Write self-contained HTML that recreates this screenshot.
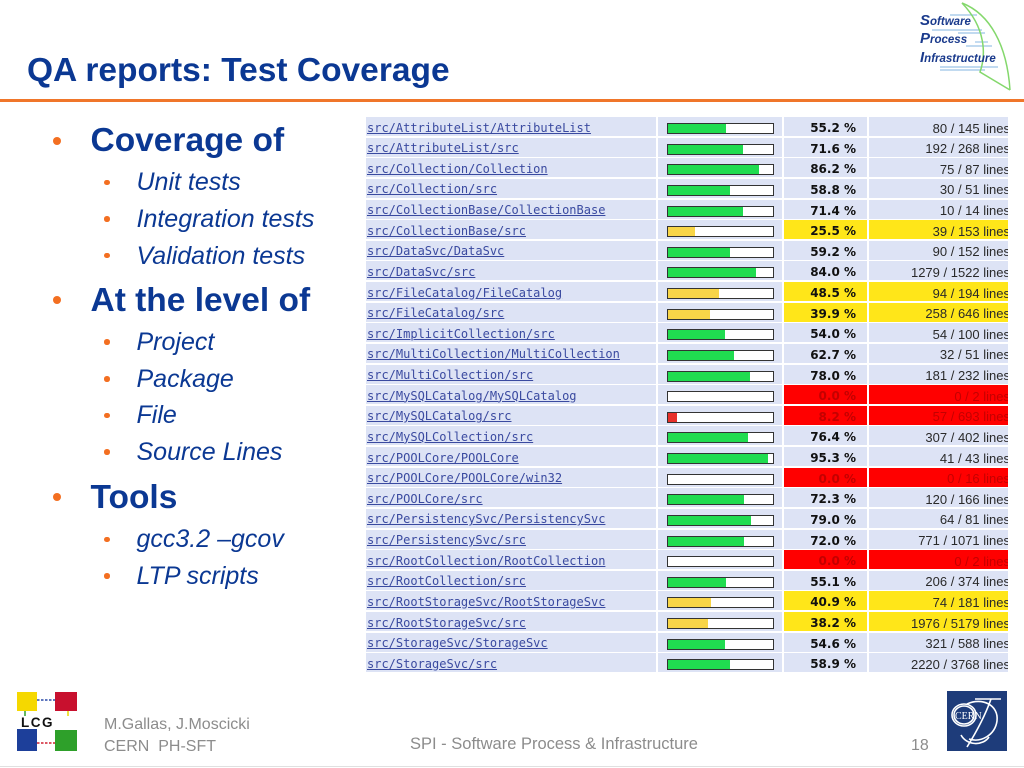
<!DOCTYPE html>
<html>
<head>
<meta charset="utf-8">
<style>
  html,body{margin:0;padding:0;background:#fff;}
  body{width:1024px;height:768px;position:relative;overflow:hidden;font-family:"Liberation Sans",Arial,sans-serif;}
  .abs{position:absolute;white-space:nowrap;line-height:1;}
  .title{left:27px;top:53.6px;font-size:33.5px;font-weight:bold;color:#0b3893;}
  .hr{position:absolute;left:0;top:99px;width:1024px;height:3px;background:#f0762a;}
  .m{font-size:33.5px;font-weight:bold;color:#0b3893;left:90.5px;}
  .s{font-size:25px;font-style:italic;color:#0b3893;left:136.5px;}
  .dot{position:absolute;border-radius:50%;background:#f36f21;}
  .dm{width:8px;height:8px;left:53px;}
  .ds{width:5.5px;height:5.5px;left:104px;}
  .tbl{position:absolute;left:366px;top:117px;display:grid;grid-template-columns:290px 124px 83px 139px;column-gap:2px;grid-auto-rows:19px;row-gap:1.63px;}
  .tbl>div{background:#dde3f5;position:relative;overflow:hidden;white-space:nowrap;}
  .c{font-family:"DejaVu Sans Mono","Liberation Mono",monospace;font-size:12px;line-height:19px;padding-top:1.5px;box-sizing:border-box;color:#3a4aa0;text-decoration:underline;padding-left:1px;}
  .p{font-family:"DejaVu Sans","Liberation Sans",sans-serif;font-size:12px;font-weight:bold;line-height:19px;padding-top:2px;box-sizing:border-box;text-align:right;padding-right:11px;color:#111;}
  .l{font-size:13px;line-height:19px;padding-top:1.5px;box-sizing:border-box;text-align:right;color:#2a2a2a;}
  .l span{position:absolute;right:-2px;}
  .tbl>div.y{background:#ffe619;}
  .tbl>div.r{background:#ff0000;color:#c40000;}
  .bar{position:absolute;left:9px;top:6px;width:107px;height:11px;box-sizing:border-box;border:1px solid #333;background:#fff;}
  .bar i{display:block;height:100%;background:#20dc50;}
  .bar i.y{background:#f8d548;}
  .bar i.r{background:#e8302a;}
  .foot{color:#8c8c8c;font-size:16px;}
</style>
</head>
<body>
<div class="abs title">QA reports: Test Coverage</div>
<div class="hr"></div>

<!-- SPI logo -->
<svg style="position:absolute;left:0;top:0" width="1024" height="100" viewBox="0 0 1024 100">
  <g stroke="#9cc4e8" stroke-width="1.2">
    <line x1="950" y1="15" x2="977" y2="15"/>
    <line x1="932" y1="30" x2="982" y2="30"/>
    <line x1="958" y1="33" x2="985" y2="33"/>
    <line x1="975" y1="42" x2="988" y2="42"/>
    <line x1="966" y1="46" x2="992" y2="46"/>
    <line x1="940" y1="67" x2="998" y2="67"/>
    <line x1="940" y1="70" x2="985" y2="70"/>
  </g>
  <g fill="none" stroke="#84d86c" stroke-width="1.5">
    <path d="M962,3 C990,14 1007,45 1010,90"/>
    <path d="M962,3 C986,28 986,55 980,72 L1010,90"/>
  </g>
  <g font-family="Liberation Sans, Arial, sans-serif" font-weight="bold" font-style="italic" fill="#1a3a8c">
    <text x="920" y="25" font-size="15">S<tspan font-size="11.5">oftware</tspan></text>
    <text x="920" y="43" font-size="15">P<tspan font-size="11.5">rocess</tspan></text>
    <text x="920" y="62" font-size="15">I<tspan font-size="11.5">nfrastructure</tspan></text>
  </g>
</svg>

<!-- bullets -->
<div class="dot dm" style="top:137px"></div>
<div class="abs m" style="top:124.3px">Coverage of</div>
<div class="dot ds" style="top:179.5px"></div>
<div class="abs s" style="top:170.1px">Unit tests</div>
<div class="dot ds" style="top:216.2px"></div>
<div class="abs s" style="top:206.8px">Integration tests</div>
<div class="dot ds" style="top:252.9px"></div>
<div class="abs s" style="top:243.5px">Validation tests</div>

<div class="dot dm" style="top:296px"></div>
<div class="abs m" style="top:283.9px">At the level of</div>
<div class="dot ds" style="top:339px"></div>
<div class="abs s" style="top:329.5px">Project</div>
<div class="dot ds" style="top:376px"></div>
<div class="abs s" style="top:366.5px">Package</div>
<div class="dot ds" style="top:412.6px"></div>
<div class="abs s" style="top:403.2px">File</div>
<div class="dot ds" style="top:449.3px"></div>
<div class="abs s" style="top:439.9px">Source Lines</div>

<div class="dot dm" style="top:493px"></div>
<div class="abs m" style="top:480.9px">Tools</div>
<div class="dot ds" style="top:536.6px"></div>
<div class="abs s" style="top:527.1px">gcc3.2 –gcov</div>
<div class="dot ds" style="top:573.3px"></div>
<div class="abs s" style="top:563.8px">LTP scripts</div>

<!-- table -->
<div class="tbl">
<div class="c">src/AttributeList/AttributeList</div><div><div class="bar"><i style="width:58px"></i></div></div><div class="p">55.2 %</div><div class="l"><span>80 / 145 lines</span></div>
<div class="c">src/AttributeList/src</div><div><div class="bar"><i style="width:75px"></i></div></div><div class="p">71.6 %</div><div class="l"><span>192 / 268 lines</span></div>
<div class="c">src/Collection/Collection</div><div><div class="bar"><i style="width:90.5px"></i></div></div><div class="p">86.2 %</div><div class="l"><span>75 / 87 lines</span></div>
<div class="c">src/Collection/src</div><div><div class="bar"><i style="width:61.7px"></i></div></div><div class="p">58.8 %</div><div class="l"><span>30 / 51 lines</span></div>
<div class="c">src/CollectionBase/CollectionBase</div><div><div class="bar"><i style="width:75px"></i></div></div><div class="p">71.4 %</div><div class="l"><span>10 / 14 lines</span></div>
<div class="c">src/CollectionBase/src</div><div><div class="bar"><i class="y" style="width:26.8px"></i></div></div><div class="p y">25.5 %</div><div class="l y"><span>39 / 153 lines</span></div>
<div class="c">src/DataSvc/DataSvc</div><div><div class="bar"><i style="width:62.2px"></i></div></div><div class="p">59.2 %</div><div class="l"><span>90 / 152 lines</span></div>
<div class="c">src/DataSvc/src</div><div><div class="bar"><i style="width:88.2px"></i></div></div><div class="p">84.0 %</div><div class="l"><span>1279 / 1522 lines</span></div>
<div class="c">src/FileCatalog/FileCatalog</div><div><div class="bar"><i class="y" style="width:50.9px"></i></div></div><div class="p y">48.5 %</div><div class="l y"><span>94 / 194 lines</span></div>
<div class="c">src/FileCatalog/src</div><div><div class="bar"><i class="y" style="width:41.9px"></i></div></div><div class="p y">39.9 %</div><div class="l y"><span>258 / 646 lines</span></div>
<div class="c">src/ImplicitCollection/src</div><div><div class="bar"><i style="width:56.7px"></i></div></div><div class="p">54.0 %</div><div class="l"><span>54 / 100 lines</span></div>
<div class="c">src/MultiCollection/MultiCollection</div><div><div class="bar"><i style="width:65.8px"></i></div></div><div class="p">62.7 %</div><div class="l"><span>32 / 51 lines</span></div>
<div class="c">src/MultiCollection/src</div><div><div class="bar"><i style="width:81.9px"></i></div></div><div class="p">78.0 %</div><div class="l"><span>181 / 232 lines</span></div>
<div class="c">src/MySQLCatalog/MySQLCatalog</div><div><div class="bar"><i style="width:0px"></i></div></div><div class="p r">0.0 %</div><div class="l r"><span>0 / 2 lines</span></div>
<div class="c">src/MySQLCatalog/src</div><div><div class="bar"><i class="r" style="width:8.6px"></i></div></div><div class="p r">8.2 %</div><div class="l r"><span>57 / 693 lines</span></div>
<div class="c">src/MySQLCollection/src</div><div><div class="bar"><i style="width:80.2px"></i></div></div><div class="p">76.4 %</div><div class="l"><span>307 / 402 lines</span></div>
<div class="c">src/POOLCore/POOLCore</div><div><div class="bar"><i style="width:100px"></i></div></div><div class="p">95.3 %</div><div class="l"><span>41 / 43 lines</span></div>
<div class="c">src/POOLCore/POOLCore/win32</div><div><div class="bar"><i style="width:0px"></i></div></div><div class="p r">0.0 %</div><div class="l r"><span>0 / 16 lines</span></div>
<div class="c">src/POOLCore/src</div><div><div class="bar"><i style="width:75.9px"></i></div></div><div class="p">72.3 %</div><div class="l"><span>120 / 166 lines</span></div>
<div class="c">src/PersistencySvc/PersistencySvc</div><div><div class="bar"><i style="width:83px"></i></div></div><div class="p">79.0 %</div><div class="l"><span>64 / 81 lines</span></div>
<div class="c">src/PersistencySvc/src</div><div><div class="bar"><i style="width:75.6px"></i></div></div><div class="p">72.0 %</div><div class="l"><span>771 / 1071 lines</span></div>
<div class="c">src/RootCollection/RootCollection</div><div><div class="bar"><i style="width:0px"></i></div></div><div class="p r">0.0 %</div><div class="l r"><span>0 / 2 lines</span></div>
<div class="c">src/RootCollection/src</div><div><div class="bar"><i style="width:57.9px"></i></div></div><div class="p">55.1 %</div><div class="l"><span>206 / 374 lines</span></div>
<div class="c">src/RootStorageSvc/RootStorageSvc</div><div><div class="bar"><i class="y" style="width:42.9px"></i></div></div><div class="p y">40.9 %</div><div class="l y"><span>74 / 181 lines</span></div>
<div class="c">src/RootStorageSvc/src</div><div><div class="bar"><i class="y" style="width:40.1px"></i></div></div><div class="p y">38.2 %</div><div class="l y"><span>1976 / 5179 lines</span></div>
<div class="c">src/StorageSvc/StorageSvc</div><div><div class="bar"><i style="width:57.3px"></i></div></div><div class="p">54.6 %</div><div class="l"><span>321 / 588 lines</span></div>
<div class="c">src/StorageSvc/src</div><div><div class="bar"><i style="width:61.8px"></i></div></div><div class="p">58.9 %</div><div class="l"><span>2220 / 3768 lines</span></div>
</div>

<!-- LCG logo -->
<svg style="position:absolute;left:14px;top:688px" width="68" height="66" viewBox="14 688 68 66">
  <rect x="17" y="692" width="20" height="19" fill="#f5d800"/>
  <rect x="55" y="692" width="22" height="19" fill="#c8102e"/>
  <rect x="17" y="729" width="20" height="22" fill="#1d3f9a"/>
  <rect x="55" y="730" width="22" height="21" fill="#2ea02a"/>
  <line x1="37" y1="700" x2="55" y2="700" stroke="#2a4aa8" stroke-width="1.5" stroke-dasharray="2.5,1.5"/>
  <line x1="37" y1="743" x2="55" y2="743" stroke="#d02030" stroke-width="1.5" stroke-dasharray="2.5,1.5"/>
  <line x1="25" y1="711" x2="25" y2="716" stroke="#2ea02a" stroke-width="1.5"/>
  <line x1="68" y1="711" x2="68" y2="716" stroke="#e8d800" stroke-width="1.5"/>
  <text x="21" y="727" font-family="Liberation Sans, Arial, sans-serif" font-weight="bold" font-size="13.5" letter-spacing="1.5" fill="#111">LCG</text>
</svg>

<div class="abs foot" style="left:104px;top:716.5px">M.Gallas, J.Moscicki</div>
<div class="abs foot" style="left:104px;top:738.5px">CERN&nbsp; PH-SFT</div>
<div class="abs foot" style="left:410px;top:736px;font-size:16.5px">SPI - Software Process &amp; Infrastructure</div>
<div class="abs foot" style="left:911px;top:738px">18</div>

<!-- CERN logo -->
<svg style="position:absolute;left:947px;top:691px" width="60" height="60" viewBox="0 0 60 60">
  <rect x="0" y="0" width="60" height="60" fill="#1e3c7a"/>
  <g fill="none" stroke="#fff" stroke-width="1.6">
    <ellipse cx="17" cy="24" rx="12" ry="11"/>
    <ellipse cx="17" cy="24" rx="10" ry="9"/>
    <path d="M20,13 C35,6 52,14 50,30 C48,44 34,52 22,48"/>
    <path d="M28,8 L54,8"/>
    <path d="M44,8 C38,25 30,40 20,56"/>
    <path d="M14,44 C20,55 36,55 42,46"/>
  </g>
  <text x="8" y="28" font-family="Liberation Serif, serif" font-size="10" fill="#fff">CERN</text>
</svg>

<div style="position:absolute;left:0;top:766px;width:1024px;height:1px;background:#e0e0e0"></div>
</body>
</html>
